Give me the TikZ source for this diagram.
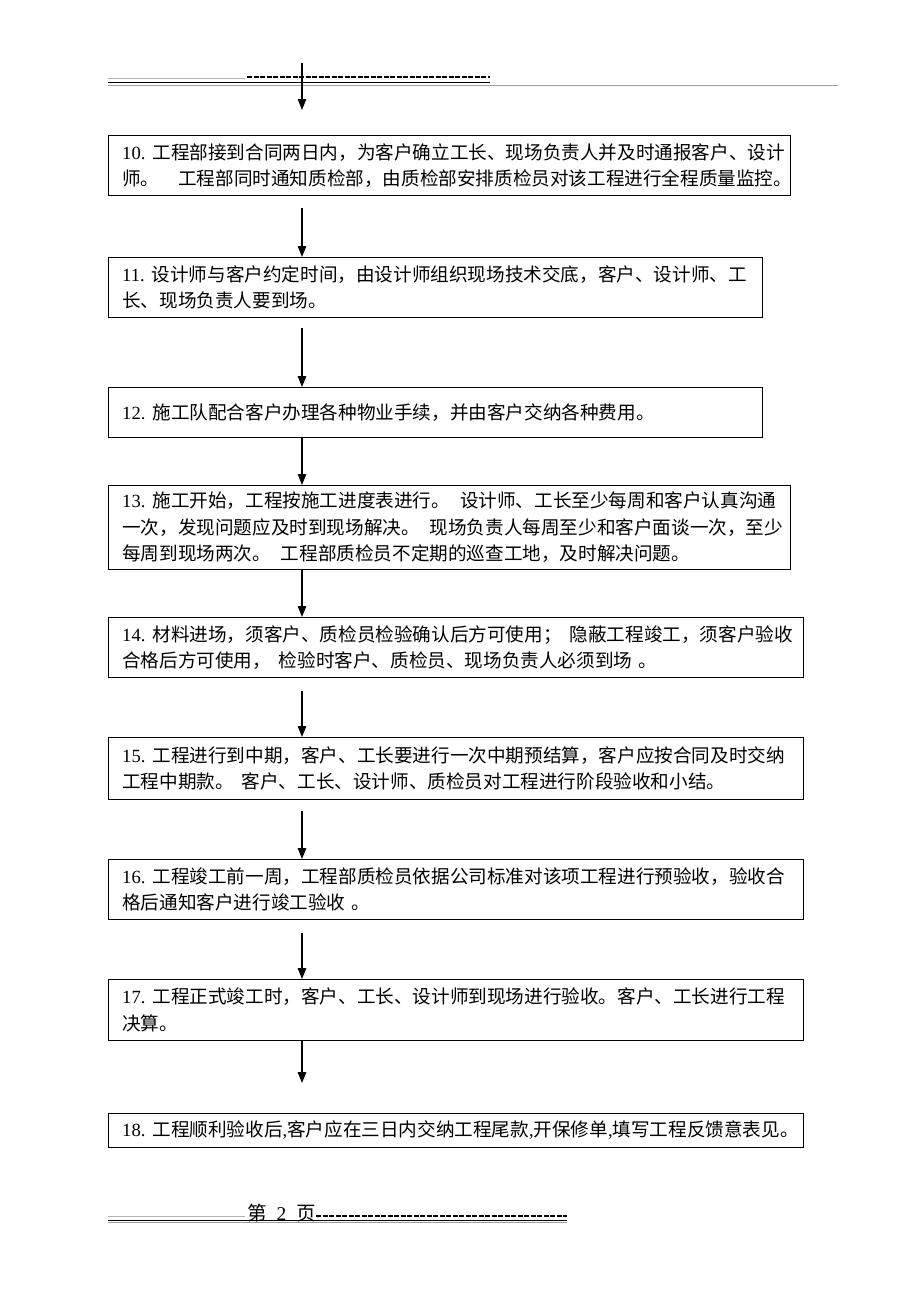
\documentclass[tikz,border=0pt]{standalone}
\usepackage{fontspec}
\setmainfont{Noto Sans CJK SC}
\newfontfamily\lat{Liberation Serif}
\usetikzlibrary{arrows.meta}
\begin{document}
\begin{tikzpicture}[x=1pt,y=-1pt,
  box/.style={draw=black, line width=1pt, inner sep=0pt, anchor=north west},
  txt/.style={anchor=west, align=left, inner sep=0pt, font=\fontsize{18.6}{26.5}\selectfont},
  arr/.style={-{Triangle[length=11pt,width=8.5pt]}, line width=1.1pt},
  dashline/.style={line width=1.3pt, dash pattern=on 5pt off 1.5pt},
  thin/.style={gray!60, line width=0.6pt}
]
\useasboundingbox (0,0) rectangle (920,1302);

% header
\draw[thin] (108,78) -- (245,78);
\draw[dashline] (247,77) -- (490,77);
\draw[line width=1pt] (108,82) -- (490,82);
\draw[gray!75, line width=1pt] (108,85) -- (838,85);

% boxes
\node[box, minimum width=682pt, minimum height=60pt] (b10) at (108,135) {};
\node[box, minimum width=654pt, minimum height=60pt] (b11) at (108,257) {};
\node[box, minimum width=654pt, minimum height=50pt] (b12) at (108,387) {};
\node[box, minimum width=682pt, minimum height=84pt] (b13) at (108,485) {};
\node[box, minimum width=695pt, minimum height=60pt] (b14) at (108,617) {};
\node[box, minimum width=695pt, minimum height=62pt] (b15) at (108,737) {};
\node[box, minimum width=695pt, minimum height=60pt] (b16) at (108,859) {};
\node[box, minimum width=695pt, minimum height=61pt] (b17) at (108,979) {};
\node[box, minimum width=695pt, minimum height=34pt] (b18) at (108,1113) {};

% texts
\node[txt] (t10) at ([xshift=14pt]b10.west) {{\lat 10.}\hspace{7pt}工程部接到合同两日内，为客户确立工长、现场负责人并及时通报客户、设计\\师。\hspace{19pt}工程部同时通知质检部，由质检部安排质检员对该工程进行全程质量监控。};
\node[txt] (t11) at ([xshift=14pt]b11.west) {{\lat 11.}\hspace{7pt}设计师与客户约定时间，由设计师组织现场技术交底，客户、设计师、工\\长、现场负责人要到场。};
\node[txt] (t12) at ([xshift=14pt]b12.west) {{\lat 12.}\hspace{7pt}施工队配合客户办理各种物业手续，并由客户交纳各种费用。};
\node[txt] (t13) at ([xshift=14pt]b13.west) {{\lat 13.}\hspace{7pt}施工开始，工程按施工进度表进行。\hspace{10pt}设计师、工长至少每周和客户认真沟通\\一次，发现问题应及时到现场解决。\hspace{10pt}现场负责人每周至少和客户面谈一次，至少\\每周到现场两次。\hspace{10pt}工程部质检员不定期的巡查工地，及时解决问题。};
\node[txt] (t14) at ([xshift=14pt]b14.west) {{\lat 14.}\hspace{7pt}材料进场，须客户、质检员检验确认后方可使用；\hspace{8pt}隐蔽工程竣工，须客户验收\\合格后方可使用，\hspace{8pt}检验时客户、质检员、现场负责人必须到场\hspace{6pt}。};
\node[txt] (t15) at ([xshift=14pt]b15.west) {{\lat 15.}\hspace{7pt}工程进行到中期，客户、工长要进行一次中期预结算，客户应按合同及时交纳\\工程中期款。\hspace{8pt}客户、工长、设计师、质检员对工程进行阶段验收和小结。};
\node[txt] (t16) at ([xshift=14pt]b16.west) {{\lat 16.}\hspace{7pt}工程竣工前一周，工程部质检员依据公司标准对该项工程进行预验收，验收合\\格后通知客户进行竣工验收\hspace{6pt}。};
\node[txt] (t17) at ([xshift=14pt]b17.west) {{\lat 17.}\hspace{7pt}工程正式竣工时，客户、工长、设计师到现场进行验收。客户、工长进行工程\\决算。};
\node[txt] (t18) at ([xshift=14pt]b18.west) {{\lat 18.}\hspace{7pt}工程顺利验收后{\lat ,}客户应在三日内交纳工程尾款{\lat ,}开保修单{\lat ,}填写工程反馈意表见。};

% arrows
\coordinate (ax) at (302,0);
\coordinate (a0s) at (302,63);
\coordinate (a0e) at (302,110);
\draw[arr] (a0s) -- (a0e);
\draw[arr, shorten <=12pt] (b10.south -| ax) -- (b11.north -| ax);
\draw[arr, shorten <=10pt] (b11.south -| ax) -- (b12.north -| ax);
\draw[arr] (b12.south -| ax) -- (b13.north -| ax);
\draw[arr] (b13.south -| ax) -- (b14.north -| ax);
\draw[arr, shorten <=13pt] (b14.south -| ax) -- (b15.north -| ax);
\draw[arr, shorten <=11pt] (b15.south -| ax) -- (b16.north -| ax);
\draw[arr, shorten <=13pt] (b16.south -| ax) -- (b17.north -| ax);
\draw[arr, shorten >=30pt] (b17.south -| ax) -- (b18.north -| ax);

% footer
\draw[thin] (108,1216) -- (245,1216);
\node[anchor=west, inner sep=0pt, font=\fontsize{19.5}{19.5}\selectfont] (pg) at (247,1213) {第\hspace{10pt}{\lat 2}\hspace{10pt}页};
\draw[dashline] (pg.east |- 0,1216) -- (567,1216);
\draw[line width=1pt] (108,1220) -- (567,1220);
\draw[gray!75, line width=0.8pt] (108,1222.5) -- (567,1222.5);
\end{tikzpicture}
\end{document}
